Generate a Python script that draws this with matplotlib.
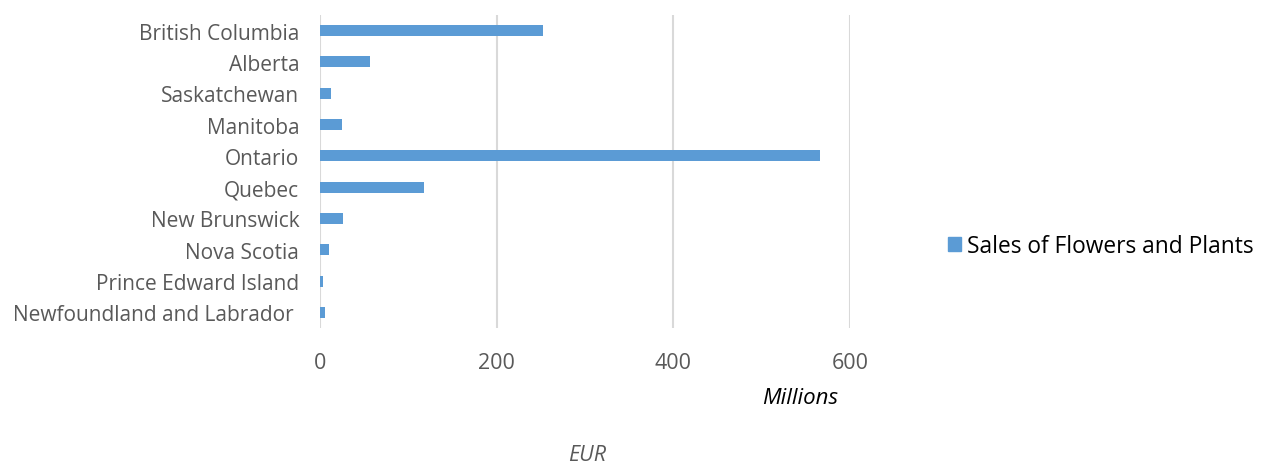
import matplotlib
matplotlib.use("Agg")
import matplotlib.pyplot as plt
from matplotlib.patches import Rectangle

provinces = ["British Columbia", "Alberta", "Saskatchewan", "Manitoba", "Ontario",
             "Quebec", "New Brunswick", "Nova Scotia", "Prince Edward Island",
             "Newfoundland and Labrador "]
sales = [252, 56.6, 12.5, 24.5, 566, 117.7, 26, 9.8, 3.8, 5.7]
xticks = [0, 200, 400, 600]
series_name = "Sales of Flowers and Plants"

plt.rcParams['font.family'] = ['Open Sans', 'DejaVu Sans']
W, H = 1262, 464
fig = plt.figure(figsize=(W / 100, H / 100), dpi=100)
ax = fig.add_axes([320 / W, 1 - 329 / H, (850 - 320) / W, (329 - 16) / H])

color = "#5b9bd5"
ypos = list(range(len(provinces)))
ax.barh(ypos, sales, height=0.35, color=color, zorder=3, label=series_name)
ax.set_ylim(len(provinces) - 0.5, -0.5)
ax.set_xlim(0, 600)
ax.set_xticks(xticks)
ax.set_xticklabels([str(t) for t in xticks], color="#595959", fontsize=15.5)
ax.set_yticks(ypos)
ax.set_yticklabels(provinces, color="#595959", fontsize=15)
ax.tick_params(axis="both", length=0)
ax.tick_params(axis="x", pad=17)
ax.tick_params(axis="y", pad=15)
for s in ax.spines.values():
    s.set_visible(False)
ax.grid(axis="x", color="#d9d9d9", linewidth=1.5, zorder=0)
ax.grid(axis="y", visible=False)

fig.text(800 / W, 1 - 399 / H, "Millions", ha="center", va="center",
         fontsize=16, style="italic", color="#000000")
fig.text(587 / W, 1 - 456 / H, "EUR", ha="center", va="center",
         fontsize=15.5, style="italic", color="#595959")

leg = fig.legend(handles=[Rectangle((0, 0), 1, 1, color=color)], labels=[series_name],
                 loc="center left", bbox_to_anchor=(948 / W, 1 - 247 / H), frameon=False,
                 borderaxespad=0, borderpad=0,
                 fontsize=16.4, handlelength=0.55, handleheight=0.55, handletextpad=0.3)

fig.savefig("out.png", dpi=100)
